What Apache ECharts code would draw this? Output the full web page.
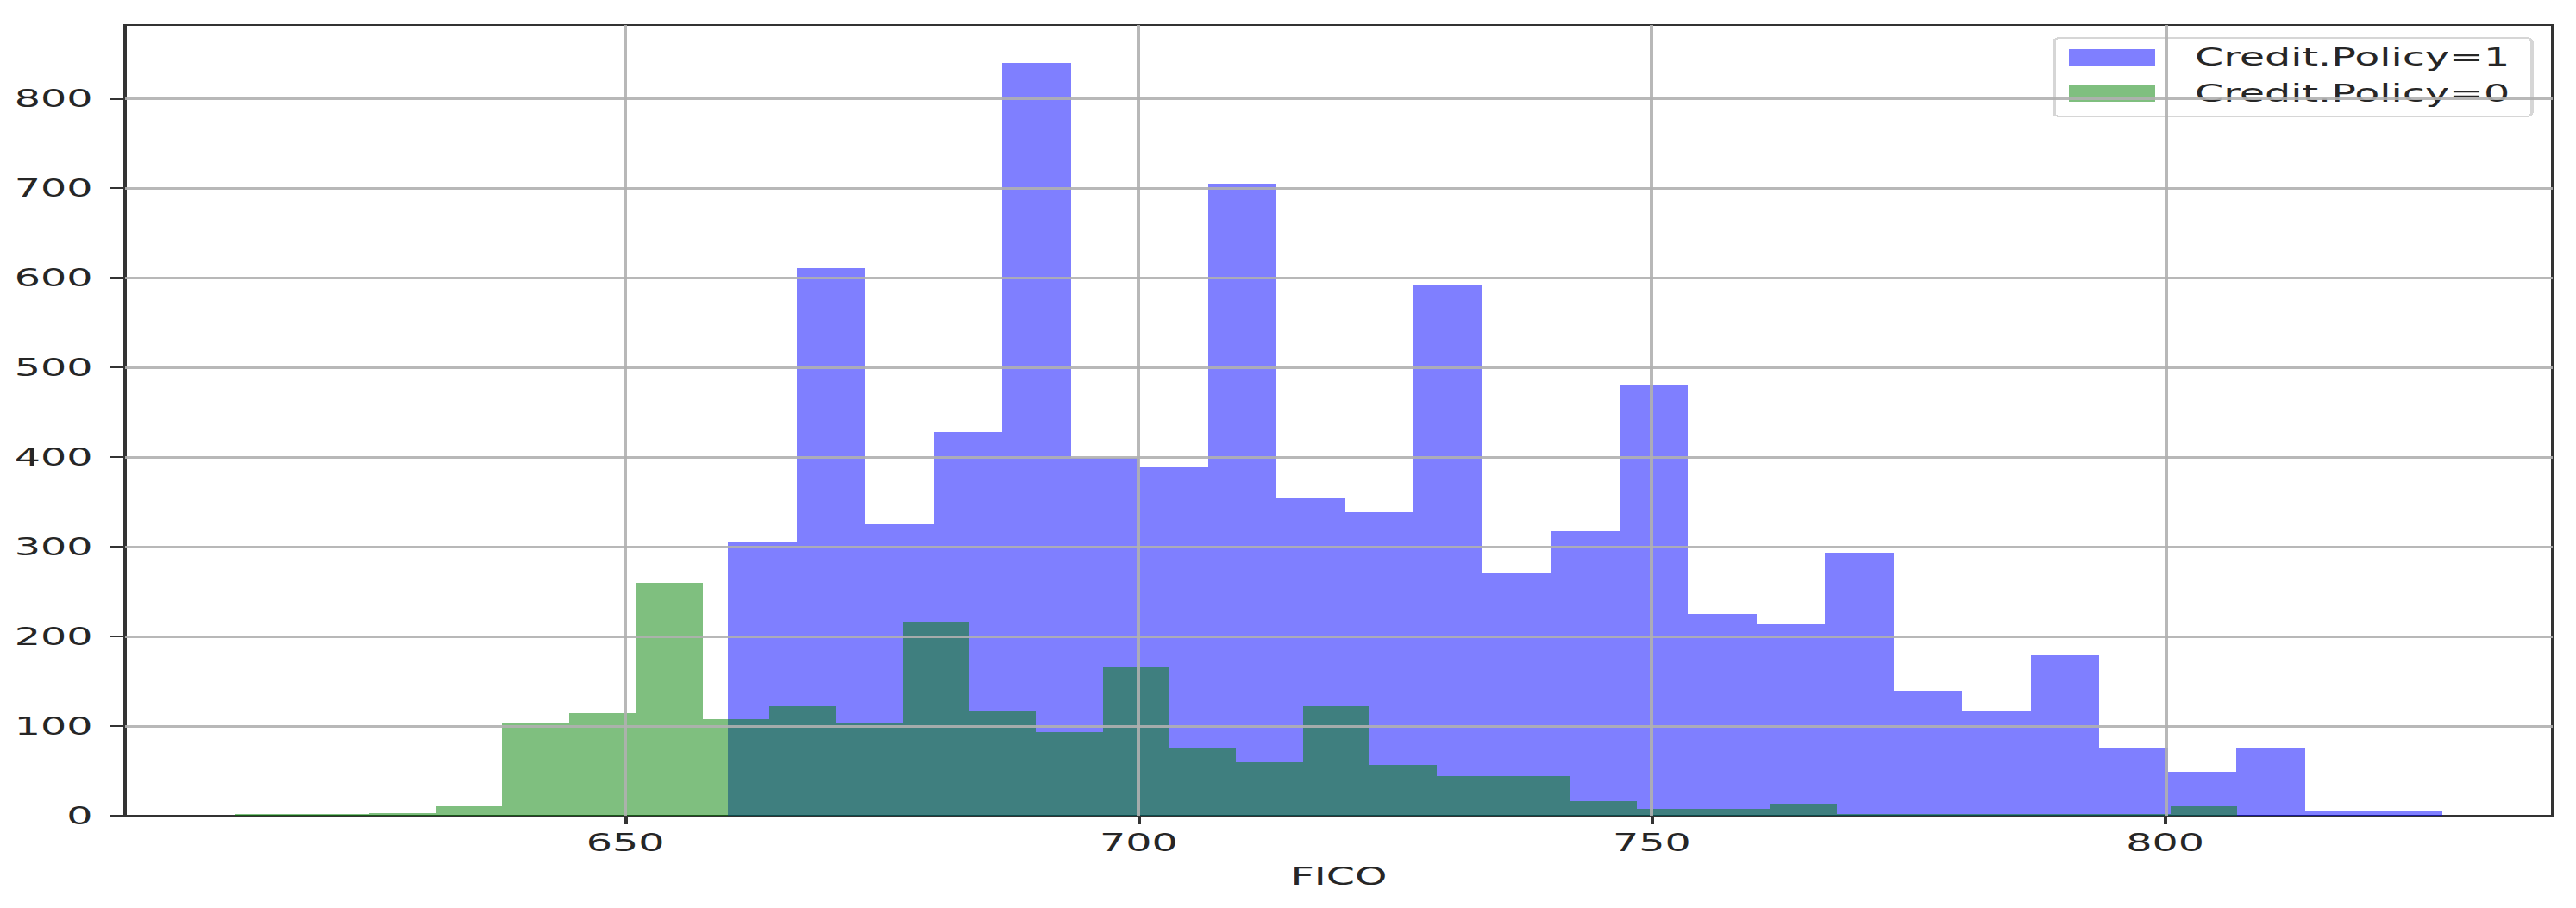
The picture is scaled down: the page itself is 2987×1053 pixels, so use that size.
<!DOCTYPE html>
<html>
<head>
<meta charset="utf-8">
<script src="https://cdn.jsdelivr.net/npm/echarts@6/dist/echarts.min.js"></script>
<style>
  html, body { margin: 0; padding: 0; background: #fff; overflow: hidden; }
  /* the reference picture is a stretched figure, so draw narrow and stretch sideways */
  #main { width: 1757px; height: 1053px; transform: scaleX(1.7); transform-origin: 0 0; }
  /* no hairline seams between neighbouring bins */
  #main svg path { shape-rendering: crispEdges; }
</style>
</head>
<body>
<div id="main"></div>
<script>
// histogram counts
var blueName = 'Credit.Policy=1';
var blueRange = [660, 827];
var blueCounts = [305, 611, 325, 428, 840, 399, 390, 705, 355, 339, 592, 271, 317,
                  481, 225, 214, 293, 139, 117, 179, 76, 49, 76, 5, 5];

var greenName = 'Credit.Policy=0';
var greenRange = [612, 807];
var greenCounts = [2, 2, 3, 11, 103, 114, 260, 108, 122, 104, 216, 117, 93, 165, 76,
                   60, 122, 57, 44, 44, 16, 8, 8, 13, 2, 2, 2, 2, 2, 11];

var xTicks = [650, 700, 750, 800];
var yTicks = [100, 200, 300, 400, 500, 600, 700, 800];

function toBins(range, counts) {
    var w = (range[1] - range[0]) / counts.length;
    var out = [];
    for (var i = 0; i < counts.length; i++) {
        out.push([range[0] + i * w, range[0] + (i + 1) * w, counts[i]]);
    }
    return out;
}

function renderBin(params, api) {
    var top = api.coord([api.value(0), api.value(2)]);
    var base = api.coord([api.value(1), 0]);
    return {
        type: 'rect',
        shape: { x: top[0], y: top[1], width: base[0] - top[0], height: base[1] - top[1] },
        style: api.style()
    };
}

var font = 'DejaVu Sans';
var gridLines = [];
xTicks.forEach(function (v) { gridLines.push({ xAxis: v }); });
yTicks.forEach(function (v) { gridLines.push({ yAxis: v }); });

var chartDom = document.getElementById('main');
var myChart = echarts.init(chartDom, null, { renderer: 'svg' });
var option;

option = {
    animation: false,
    backgroundColor: '#fff',
    grid: {
        left: 85.3, right: 15.9, top: 29, bottom: 107,
        show: true, borderColor: '#333', borderWidth: 2
    },
    legend: {
        orient: 'vertical',
        right: 30,
        top: 44,
        padding: [8, 15, 13, 10],
        itemGap: 14,
        itemWidth: 59,
        itemHeight: 19,
        icon: 'rect',
        backgroundColor: 'rgba(255,255,255,0.8)',
        borderColor: '#d6d6d6',
        borderWidth: 2,
        borderRadius: 4,
        textStyle: { fontFamily: font, fontSize: 28, color: '#262626', padding: [0, 0, 0, 22] },
        data: [blueName, greenName]
    },
    xAxis: {
        type: 'value',
        min: 601.25,
        max: 837.75,
        name: 'FICO',
        nameLocation: 'middle',
        nameGap: 56,
        nameTextStyle: { fontFamily: font, fontSize: 28, color: '#262626' },
        axisLine: { show: false },
        axisTick: { show: true, length: 10, customValues: xTicks, lineStyle: { color: '#333', width: 2 } },
        axisLabel: { customValues: xTicks, margin: 17, fontFamily: font, fontSize: 28, color: '#262626' },
        splitLine: { show: false }
    },
    yAxis: {
        type: 'value',
        min: 0,
        max: 882,
        interval: 100,
        axisLine: { show: false },
        axisTick: { show: true, length: 10, lineStyle: { color: '#333', width: 2 } },
        axisLabel: { margin: 22, showMaxLabel: false, fontFamily: font, fontSize: 28, color: '#262626' },
        splitLine: { show: false }
    },
    series: [
        {
            name: blueName,
            type: 'custom',
            renderItem: renderBin,
            itemStyle: { color: 'rgba(0,0,255,0.5)' },
            encode: { x: [0, 1], y: 2 },
            data: toBins(blueRange, blueCounts)
        },
        {
            name: greenName,
            type: 'custom',
            renderItem: renderBin,
            itemStyle: { color: 'rgba(0,128,0,0.5)' },
            encode: { x: [0, 1], y: 2 },
            data: toBins(greenRange, greenCounts),
            // grid lines sit over the bars, as in the reference
            markLine: {
                silent: true,
                symbol: 'none',
                label: { show: false },
                lineStyle: { color: '#b0b0b0', width: 2.5, type: 'solid', opacity: 0.9 },
                data: gridLines
            }
        }
    ]
};

option && myChart.setOption(option);
</script>
</body>
</html>
